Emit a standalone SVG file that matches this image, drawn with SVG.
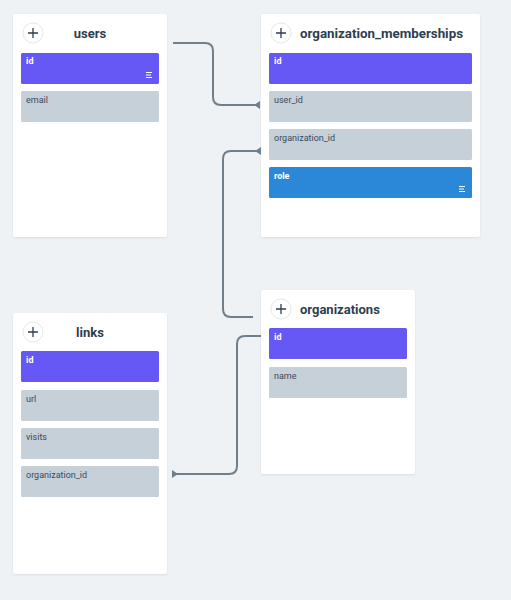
<svg xmlns="http://www.w3.org/2000/svg" width="511" height="600" viewBox="0 0 511 600">
<defs>
<style>
.card{fill:#ffffff;filter:url(#sh)}
.pk{fill:#6658f5}
.fld{fill:#c5d0d8}
.en{fill:#2b88d9}
.plus{fill:#ffffff;stroke:#e3e8ec;stroke-width:1}
.pl{stroke:#2d3e4f;stroke-width:1.3}
.title{font-family:Roboto,"Noto Sans",sans-serif;font-weight:bold;font-size:13px;fill:#2d3e4f}
.rt{font-family:Roboto,"Noto Sans",sans-serif;font-size:9px;fill:#3a4a5a}
.rw{font-family:Roboto,"Noto Sans",sans-serif;font-size:9px;font-weight:bold;fill:#ffffff}
.ic{stroke:#ffffff;stroke-width:1}
.conn{fill:none;stroke:#6f7f8c;stroke-width:2}
</style>
<filter id="sh" x="-10%" y="-10%" width="120%" height="120%">
<feDropShadow dx="0" dy="1" stdDeviation="1" flood-color="#90a0b0" flood-opacity="0.25"/>
</filter>
<marker id="bar" viewBox="0 0 6 8" refX="6" refY="4" markerWidth="6" markerHeight="8" markerUnits="userSpaceOnUse" orient="auto">
<path d="M6,0 L6,8 L0,4 Z" fill="#6f7f8c"/>
</marker>
</defs>
<rect width="511" height="600" fill="#eef2f5"/>

<g id="connectors">
<path class="conn" d="M173,43 H205 Q213,43 213,51 V97 Q213,105 221,105 H260" marker-end="url(#bar)"/>
<path class="conn" d="M253,317 H231 Q223,317 223,309 V159 Q223,151 231,151 H261" marker-end="url(#bar)"/>
<path class="conn" d="M269,336 H245 Q237,336 237,344 V466 Q237,474 229,474 H172" marker-end="url(#bar)"/>
</g>

<g id="users">
<rect class="card" x="13" y="14" width="154" height="223" rx="2"/>
<circle class="plus" cx="33" cy="33" r="10"/>
<path class="pl" d="M28,33 H38 M33,28 V38"/>
<text class="title" x="90" y="38" text-anchor="middle">users</text>
<rect class="pk" x="21" y="53" width="138" height="31" rx="1.5"/>
<text class="rw" x="26" y="64">id</text>
<path class="ic" d="M146,72.5 H152 M146,75 H151 M146,77.5 H152"/>
<rect class="fld" x="21" y="91" width="138" height="31" rx="1.5"/>
<text class="rt" x="26" y="103">email</text>
</g>

<g id="organization_memberships">
<rect class="card" x="261" y="14" width="219" height="223" rx="2"/>
<circle class="plus" cx="281" cy="33" r="10"/>
<path class="pl" d="M276,33 H286 M281,28 V38"/>
<text class="title" x="300" y="38" textLength="163" lengthAdjust="spacingAndGlyphs">organization_memberships</text>
<rect class="pk" x="269" y="53" width="203" height="31" rx="1.5"/>
<text class="rw" x="274" y="64">id</text>
<rect class="fld" x="269" y="91" width="203" height="31" rx="1.5"/>
<text class="rt" x="274" y="103">user_id</text>
<rect class="fld" x="269" y="129" width="203" height="31" rx="1.5"/>
<text class="rt" x="274" y="141">organization_id</text>
<rect class="en" x="269" y="167" width="203" height="31" rx="1.5"/>
<text class="rw" x="274" y="179">role</text>
<path class="ic" d="M459,186.5 H465 M459,189 H464 M459,191.5 H465"/>
</g>

<g id="organizations">
<rect class="card" x="261" y="290" width="154" height="184" rx="2"/>
<circle class="plus" cx="281" cy="309" r="10"/>
<path class="pl" d="M276,309 H286 M281,304 V314"/>
<text class="title" x="300" y="314">organizations</text>
<rect class="pk" x="269" y="328" width="138" height="31" rx="1.5"/>
<text class="rw" x="274" y="340">id</text>
<rect class="fld" x="269" y="367" width="138" height="31" rx="1.5"/>
<text class="rt" x="274" y="379">name</text>
</g>

<g id="links">
<rect class="card" x="13" y="313" width="154" height="261" rx="2"/>
<circle class="plus" cx="33" cy="332" r="10"/>
<path class="pl" d="M28,332 H38 M33,327 V337"/>
<text class="title" x="90" y="337" text-anchor="middle">links</text>
<rect class="pk" x="21" y="351" width="138" height="31" rx="1.5"/>
<text class="rw" x="26" y="363">id</text>
<rect class="fld" x="21" y="390" width="138" height="31" rx="1.5"/>
<text class="rt" x="26" y="402">url</text>
<rect class="fld" x="21" y="428" width="138" height="31" rx="1.5"/>
<text class="rt" x="26" y="440">visits</text>
<rect class="fld" x="21" y="466" width="138" height="31" rx="1.5"/>
<text class="rt" x="26" y="478">organization_id</text>
</g>
</svg>
